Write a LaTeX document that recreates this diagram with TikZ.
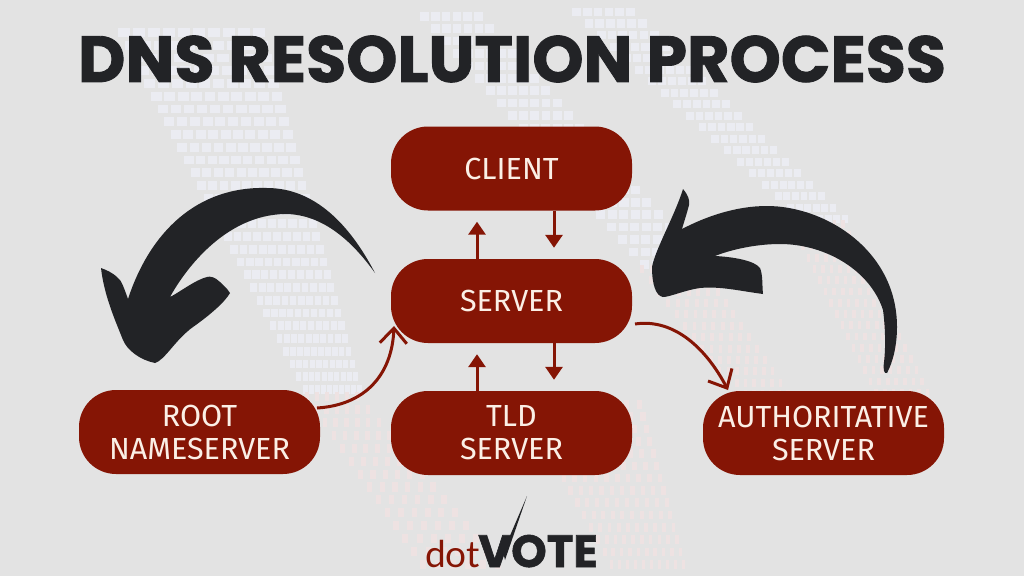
\documentclass[tikz,border=0pt]{standalone}
\usepackage{fontspec}
\setmainfont{Noto Sans}
\newfontfamily\titlefont{Poppins}[BoldFont={Poppins Bold},BoldFeatures={FakeBold=1.3}]
\newfontfamily\nodefont{Fira Sans}
\newfontfamily\logofont{Lato}
\usetikzlibrary{arrows.meta}
\definecolor{bgc}{HTML}{E3E3E3}
\definecolor{bandc}{HTML}{EBECF2}
\definecolor{pinkc}{HTML}{EEE2E2}
\definecolor{boxc}{HTML}{851505}
\definecolor{inkc}{HTML}{222326}
\definecolor{textc}{HTML}{FBEFE6}
\newcommand{\cellfrac}{0.8}
\newcommand{\cellband}[9]{%
 \foreach \r in {0,...,#8}{\foreach \c in {0,...,#9}{%
  \pgfmathsetmacro{\tr}{\r/#8}\pgfmathsetmacro{\wd}{#4+(#7-#4)*\tr}%
  \pgfmathsetmacro{\xx}{#2+(#5-#2)*\tr+\wd*\c/(#9+1)}%
  \pgfmathsetmacro{\yy}{#3+(#6-#3)*\tr}%
  \pgfmathsetmacro{\ww}{\wd/(#9+1)*\cellfrac}%
  \pgfmathsetmacro{\hh}{(#6-#3)/#8*0.7}%
  \fill[#1] (\xx,\yy) rectangle (\xx+\ww,\yy+\hh);}}}
\tikzset{
 box/.style={draw=none,fill=boxc,rounded corners=37pt,minimum width=241pt,minimum height=84pt,inner sep=0pt,
   text=textc,align=center,font=\nodefont\fontsize{30.5}{33}\selectfont},
 redline/.style={draw=boxc,line width=3pt},
 straightarrow/.style={redline,-{Triangle[length=13pt,width=17pt]},shorten >=11pt},
 curvearrow/.style={redline,-{Straight Barb[length=15pt,width=27pt,line width=3pt]}},
 blackarrow/.style={fill=inkc,draw=none}
}
\begin{document}
\begin{tikzpicture}[x=1pt,y=-1pt]
\useasboundingbox (0,0) rectangle (1024,576);
\fill[bgc] (0,0) rectangle (1024,576);
% faded background
\cellband{bandc}{118}{28}{150}{303}{385}{60}{28}{9}
\cellband{bandc}{420}{12}{65}{640}{260}{70}{20}{5}
\cellband{bandc}{572}{8}{65}{800}{215}{50}{18}{5}
\renewcommand{\cellfrac}{0.42}
\cellband{pinkc}{640}{265}{70}{735}{390}{60}{11}{6}
\cellband{pinkc}{790}{220}{60}{880}{400}{60}{16}{6}
\cellband{pinkc}{305}{392}{60}{420}{560}{90}{13}{5}
\cellband{pinkc}{520}{400}{130}{610}{560}{80}{13}{9}
% title
\node[name=title,inner sep=0pt,text=inkc,font=\titlefont\bfseries\fontsize{65.2}{70}\selectfont] at (512,59) {DNS RESOLUTION PROCESS};
% nodes
\node[box,name=client] at (511.5,168.5) {CLIENT};
\node[box,name=server] at (511.5,301) {SERVER};
\node[box,name=tld] at (511.5,433) {TLD\\SERVER};
\node[box,name=root] at (199.5,432) {ROOT\\NAMESERVER};
\node[box,name=auth] at (823.5,433) {AUTHORITATIVE\\SERVER};
\coordinate (upx) at (477,0);
\coordinate (dnx) at (554,0);
% straight connectors
\draw[straightarrow] (server.north -| upx) -- (client.south -| upx);
\draw[straightarrow] (client.south -| dnx) -- (server.north -| dnx);
\draw[straightarrow] (tld.north -| upx) -- (server.south -| upx);
\draw[straightarrow] (server.south -| dnx) -- (tld.north -| dnx);
% curved connectors
\coordinate (rootout) at (317,408);
\coordinate (srvin) at (394,326);
\coordinate (srvout) at (635,324);
\coordinate (authin) at (728,390);
\draw[curvearrow] (rootout) .. controls (365,405) and (392,375) .. (srvin);
\draw[curvearrow] (srvout) .. controls (675,318) and (707,350) .. (authin);
% large black arrows
\fill[blackarrow] (375,273) .. controls (350,225) and (315,188) .. (267,188)
  .. controls (197,186) and (150,232) .. (128,299)
  .. controls (123,285) and (121,280) .. (118,278)
  .. controls (112,272) and (106,270) .. (101,268)
  .. controls (104,295) and (115,320) .. (123,340)
  .. controls (127,350) and (140,360) .. (155,363)
  .. controls (165,360) and (175,340) .. (193,327)
  .. controls (210,315) and (225,302) .. (230,293)
  .. controls (227,288) and (222,284) .. (220,282)
  .. controls (215,277) and (210,276) .. (207,277)
  .. controls (195,280) and (180,292) .. (170,297)
  .. controls (186,268) and (226,215) .. (285,214)
  .. controls (325,214) and (355,245) .. (375,273) -- cycle;
\fill[blackarrow] (683,189) .. controls (688,195) and (690,200) .. (689,205)
  .. controls (687,213) and (684,222) .. (682,229)
  .. controls (705,217) and (735,206) .. (767,206)
  .. controls (825,206) and (897,250) .. (897,327)
  .. controls (897,345) and (893,362) .. (887,373)
  .. controls (884,374) and (883,370) .. (884,362)
  .. controls (886,345) and (885,325) .. (883,310)
  .. controls (870,270) and (825,244) .. (780,244)
  .. controls (755,244) and (730,250) .. (715,256)
  .. controls (735,257) and (755,261) .. (760,268)
  .. controls (763,275) and (762,285) .. (763,294)
  .. controls (740,291) and (720,286) .. (700,288)
  .. controls (685,290) and (670,297) .. (663,297)
  .. controls (656,296) and (652,285) .. (652,267)
  .. controls (655,250) and (675,215) .. (683,189) -- cycle;
% logo
\node[name=logodot,anchor=base east,inner sep=0pt,text=boxc,font=\logofont\fontsize{37}{40}\selectfont] at (480,567) {dot};
\node[name=logovote,anchor=base west,inner sep=0pt,text=inkc,font=\titlefont\bfseries\fontsize{45.2}{48}\selectfont] at (478,567) {VOTE};
\fill[inkc] (503,552) -- (527,496) -- (505,560) -- cycle;
\end{tikzpicture}
\end{document}
